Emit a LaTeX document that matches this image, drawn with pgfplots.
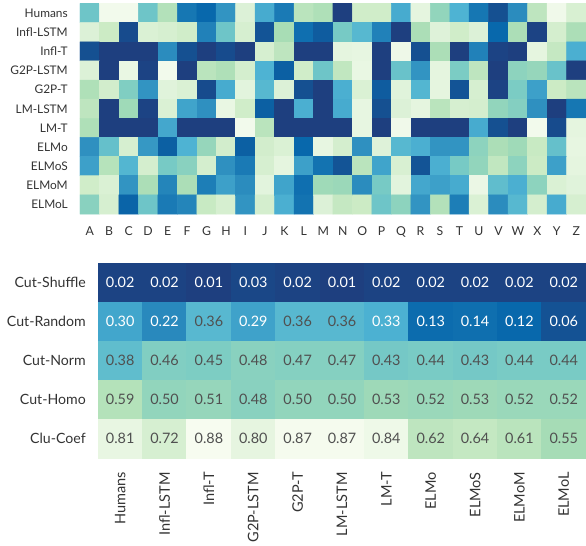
\documentclass[border=0pt]{standalone}
\usepackage{fontspec}
\setmainfont{Lato}
\usepackage{pgfplots}
\pgfplotsset{compat=1.18}
\usepackage{pgfplotstable}

\definecolor{labelgray}{RGB}{51,51,51}
\definecolor{valuegray}{RGB}{80,80,80}

\pgfplotsset{
  colormap={gnbu}{rgb255=(247,252,240) rgb255=(224,243,219) rgb255=(204,235,197)
    rgb255=(168,221,181) rgb255=(123,204,196) rgb255=(78,179,211) rgb255=(43,140,190)
    rgb255=(8,104,172) rgb255=(30,63,127)},
  colormap={gnbu reversed}{rgb255=(30,63,127) rgb255=(8,104,172) rgb255=(43,140,190)
    rgb255=(78,179,211) rgb255=(123,204,196) rgb255=(168,221,181) rgb255=(204,235,197)
    rgb255=(224,243,219) rgb255=(247,252,240)},
  heatmap/.style={
    scale only axis,
    axis line style={draw=none},
    major tick length=0pt,
    tick style={draw=none},
    y dir=reverse,
    tick label style={inner sep=0pt, text=labelgray},
  },
  cell values/.style={
    draw=none, mark=none, point meta=explicit,
    nodes near coords={\pgfmathprintnumber[fixed,zerofill,precision=2,assume math mode=true]{\pgfplotspointmeta}},
    nodes near coords align=center,
    every node near coord/.append style={anchor=center, inner sep=0pt,
      font=\fontsize{10.8}{12}\selectfont, text=#1},
  },
}

% clustering statistics per model (rows: measure, columns: model)
\pgfplotstableread{
x y v
0 0 0.02
1 0 0.02
2 0 0.01
3 0 0.03
4 0 0.02
5 0 0.01
6 0 0.02
7 0 0.02
8 0 0.02
9 0 0.02
10 0 0.02
0 1 0.30
1 1 0.22
2 1 0.36
3 1 0.29
4 1 0.36
5 1 0.36
6 1 0.33
7 1 0.13
8 1 0.14
9 1 0.12
10 1 0.06
0 2 0.38
1 2 0.46
2 2 0.45
3 2 0.48
4 2 0.47
5 2 0.47
6 2 0.43
7 2 0.44
8 2 0.43
9 2 0.44
10 2 0.44
0 3 0.59
1 3 0.50
2 3 0.51
3 3 0.48
4 3 0.50
5 3 0.50
6 3 0.53
7 3 0.52
8 3 0.53
9 3 0.52
10 3 0.52
0 4 0.81
1 4 0.72
2 4 0.88
3 4 0.80
4 4 0.87
5 4 0.87
6 4 0.84
7 4 0.62
8 4 0.64
9 4 0.61
10 4 0.55
}\cutstats

\begin{document}
\begin{tikzpicture}
\useasboundingbox (0,0) rectangle (439.5pt,-409.5pt);

% per-letter pattern heatmap
\begin{axis}[heatmap,
  at={(60pt,-2.625pt)}, anchor=north west,
  width=379.5pt, height=157.9pt,
  colormap name=gnbu, point meta min=0, point meta max=8,
  xmin=-0.5, xmax=25.5, ymin=-0.5, ymax=10.5,
  xtick={0,...,25},
  xticklabels={A,B,C,D,E,F,G,H,I,J,K,L,M,N,O,P,Q,R,S,T,U,V,W,X,Y,Z},
  ytick={0,...,10},
  yticklabels={Humans,Infl-LSTM,Infl-T,G2P-LSTM,G2P-T,LM-LSTM,LM-T,ELMo,ELMoS,ELMoM,ELMoL},
  xticklabel shift=9.4pt, yticklabel shift=9pt,
  xticklabel style={font=\fontsize{9.2}{10}\selectfont},
  yticklabel style={font=\fontsize{8.9}{10}\selectfont},
]
\addplot[matrix plot*, mesh/cols=26, point meta=explicit] coordinates {
(0,0)[4.3] (1,0)[0.2] (2,0)[0.2] (3,0)[4.3] (4,0)[2.7] (5,0)[6.6] (6,0)[7.0] (7,0)[5.8] (8,0)[1.2] (9,0)[5.2] (10,0)[6.5] (11,0)[2.5] (12,0)[2.8] (13,0)[8.0] (14,0)[1.8] (15,0)[1.8] (16,0)[5.2] (17,0)[0.8] (18,0)[3.5] (19,0)[5.0] (20,0)[6.6] (21,0)[7.6] (22,0)[6.0] (23,0)[2.4] (24,0)[0.3] (25,0)[1.4]
(0,1)[1.2] (1,1)[2.0] (2,1)[7.7] (3,1)[1.3] (4,1)[1.5] (5,1)[1.8] (6,1)[6.3] (7,1)[4.3] (8,1)[1.5] (9,1)[7.5] (10,1)[3.0] (11,1)[6.8] (12,1)[7.3] (13,1)[4.1] (14,1)[4.8] (15,1)[6.3] (16,1)[8.0] (17,1)[2.9] (18,1)[1.1] (19,1)[1.8] (20,1)[1.2] (21,1)[7.0] (22,1)[2.9] (23,1)[7.9] (24,1)[1.6] (25,1)[2.9]
(0,2)[7.6] (1,2)[8.0] (2,2)[8.0] (3,2)[8.0] (4,2)[6.0] (5,2)[7.6] (6,2)[8.0] (7,2)[7.7] (8,2)[8.0] (9,2)[1.5] (10,2)[2.4] (11,2)[8.0] (12,2)[8.0] (13,2)[0.8] (14,2)[0.7] (15,2)[8.0] (16,2)[0.4] (17,2)[7.6] (18,2)[2.9] (19,2)[8.0] (20,2)[6.3] (21,2)[7.9] (22,2)[8.0] (23,2)[0.8] (24,2)[2.2] (25,2)[5.1]
(0,3)[1.2] (1,3)[8.0] (2,3)[0.6] (3,3)[7.9] (4,3)[0.2] (5,3)[8.0] (6,3)[2.5] (7,3)[2.8] (8,3)[1.6] (9,3)[5.0] (10,3)[7.2] (11,3)[1.8] (12,3)[4.3] (13,3)[2.3] (14,3)[0.6] (15,3)[8.0] (16,3)[4.4] (17,3)[5.8] (18,3)[0.8] (19,3)[4.0] (20,3)[2.4] (21,3)[8.0] (22,3)[3.6] (23,3)[3.4] (24,3)[4.4] (25,3)[8.0]
(0,4)[2.8] (1,4)[1.7] (2,4)[3.9] (3,4)[5.8] (4,4)[1.0] (5,4)[1.3] (6,4)[7.7] (7,4)[5.2] (8,4)[0.9] (9,4)[4.8] (10,4)[1.2] (11,4)[7.6] (12,4)[8.0] (13,4)[5.1] (14,4)[1.3] (15,4)[7.3] (16,4)[1.0] (17,4)[4.9] (18,4)[0.8] (19,4)[7.5] (20,4)[1.5] (21,4)[7.9] (22,4)[4.0] (23,4)[5.5] (24,4)[2.0] (25,4)[2.5]
(0,5)[2.4] (1,5)[8.0] (2,5)[3.2] (3,5)[7.9] (4,5)[1.3] (5,5)[5.4] (6,5)[5.9] (7,5)[0.6] (8,5)[1.8] (9,5)[7.2] (10,5)[8.0] (11,5)[5.1] (12,5)[8.0] (13,5)[5.2] (14,5)[0.7] (15,5)[7.6] (16,5)[1.2] (17,5)[0.8] (18,5)[2.5] (19,5)[1.5] (20,5)[1.6] (21,5)[3.5] (22,5)[3.8] (23,5)[5.9] (24,5)[8.0] (25,5)[6.6]
(0,6)[2.8] (1,6)[8.0] (2,6)[8.0] (3,6)[8.0] (4,6)[5.3] (5,6)[8.0] (6,6)[8.0] (7,6)[8.0] (8,6)[0.2] (9,6)[2.5] (10,6)[8.0] (11,6)[8.0] (12,6)[8.0] (13,6)[8.0] (14,6)[0.7] (15,6)[8.0] (16,6)[0.3] (17,6)[8.0] (18,6)[8.0] (19,6)[8.0] (20,6)[5.2] (21,6)[7.6] (22,6)[8.0] (23,6)[0.2] (24,6)[7.7] (25,6)[0.8]
(0,7)[5.9] (1,7)[4.5] (2,7)[1.5] (3,7)[5.7] (4,7)[7.2] (5,7)[5.0] (6,7)[3.4] (7,7)[1.7] (8,7)[7.2] (9,7)[1.7] (10,7)[1.3] (11,7)[7.0] (12,7)[0.7] (13,7)[1.6] (14,7)[5.9] (15,7)[1.1] (16,7)[4.8] (17,7)[5.1] (18,7)[5.8] (19,7)[5.8] (20,7)[3.6] (21,7)[2.9] (22,7)[3.2] (23,7)[2.1] (24,7)[4.5] (25,7)[0.7]
(0,8)[5.5] (1,8)[2.6] (2,8)[4.9] (3,8)[1.6] (4,8)[4.1] (5,8)[3.7] (6,8)[1.6] (7,8)[5.9] (8,8)[6.5] (9,8)[1.5] (10,8)[0.8] (11,8)[5.5] (12,8)[6.7] (13,8)[7.5] (14,8)[2.5] (15,8)[5.4] (16,8)[1.4] (17,8)[7.5] (18,8)[5.1] (19,8)[4.1] (20,8)[3.5] (21,8)[2.3] (22,8)[3.6] (23,8)[2.0] (24,8)[5.5] (25,8)[0.8]
(0,9)[1.8] (1,9)[1.3] (2,9)[5.8] (3,9)[2.9] (4,9)[6.2] (5,9)[2.9] (6,9)[6.4] (7,9)[5.5] (8,9)[6.0] (9,9)[0.9] (10,9)[5.4] (11,9)[6.8] (12,9)[3.2] (13,9)[3.3] (14,9)[6.0] (15,9)[4.1] (16,9)[0.9] (17,9)[5.3] (18,9)[5.5] (19,9)[5.2] (20,9)[0.5] (21,9)[4.6] (22,9)[5.1] (23,9)[3.6] (24,9)[1.3] (25,9)[1.0]
(0,10)[3.7] (1,10)[1.5] (2,10)[7.1] (3,10)[4.3] (4,10)[6.5] (5,10)[6.2] (6,10)[2.1] (7,10)[1.5] (8,10)[5.8] (9,10)[1.6] (10,10)[5.1] (11,10)[6.7] (12,10)[1.2] (13,10)[2.2] (14,10)[2.0] (15,10)[4.3] (16,10)[3.6] (17,10)[5.8] (18,10)[2.7] (19,10)[6.4] (20,10)[1.3] (21,10)[6.0] (22,10)[4.8] (23,10)[1.6] (24,10)[5.2] (25,10)[1.5]
};
\end{axis}

% clustering statistics with annotated cells
\begin{axis}[heatmap,
  at={(73.5pt,-197.5pt)}, anchor=north west,
  width=366pt, height=146pt,
  colormap name=gnbu reversed, point meta min=0.01, point meta max=0.88,
  xmin=-0.5, xmax=10.5, ymin=-0.5, ymax=4.5,
  xtick={0,...,10},
  xticklabels={Humans,Infl-LSTM,Infl-T,G2P-LSTM,G2P-T,LM-LSTM,LM-T,ELMo,ELMoS,ELMoM,ELMoL},
  ytick={0,...,4},
  yticklabels={Cut-Shuffle,Cut-Random,Cut-Norm,Cut-Homo,Clu-Coef},
  xticklabel shift=10.5pt, yticklabel shift=9pt,
  xticklabel style={rotate=90, anchor=east, font=\fontsize{10.9}{12}\selectfont},
  yticklabel style={font=\fontsize{10.6}{12}\selectfont},
]
\addplot[matrix plot*, mesh/cols=11, point meta=explicit]
  table[x=x, y=y, meta=v] {\cutstats};
% light text on the darker cells, grey text on the lighter ones
\addplot[cell values=white, restrict expr to domain={\thisrow{v}}{0:0.349}]
  table[x=x, y=y, meta=v] {\cutstats};
\addplot[cell values=valuegray, restrict expr to domain={\thisrow{v}}{0.35:1}]
  table[x=x, y=y, meta=v] {\cutstats};
\end{axis}
\end{tikzpicture}
\end{document}
